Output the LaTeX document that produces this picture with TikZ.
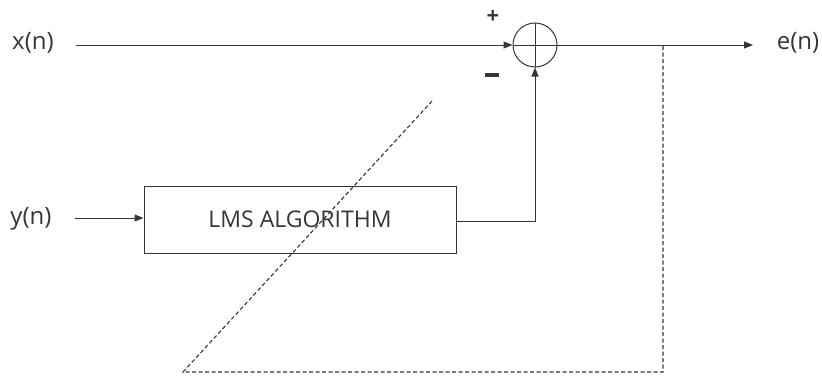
\documentclass[tikz,border=0pt]{standalone}
\usepackage{fontspec}
\setmainfont{Open Sans}
\usetikzlibrary{arrows.meta}
\definecolor{ink}{HTML}{363636}
\tikzset{
  wire/.style={draw=ink, line width=1pt},
  arr/.style={wire, -{Triangle[length=9pt,width=7pt]}},
  dash line/.style={draw=ink, line width=1.1pt, dash pattern=on 4pt off 2.5pt},
  lbl/.style={text=ink, font=\fontsize{24}{28}\selectfont, inner sep=0pt},
  blk/.style={draw=ink, line width=1pt, minimum width=312pt, minimum height=67pt, inner sep=0pt, text=ink, font=\fontsize{23}{27}\selectfont},
  sumc/.style={circle, draw=ink, line width=1pt, minimum size=44pt, inner sep=0pt},
  sign/.style={text=ink, font=\bfseries\fontsize{22}{24}\selectfont, inner sep=0pt}
}
\begin{document}
\begin{tikzpicture}[x=1pt,y=-1pt]
\useasboundingbox (0,0) rectangle (822,378);
\node[lbl] (x) at (33,43) {x(n)};
\node[lbl] (y) at (31,219) {y(n)};
\node[lbl] (e) at (798,43) {e(n)};
\node[sumc] (s) at (535,45) {};
\draw[wire] (s.north) -- (s.south);
\draw[wire] (s.west) -- (s.east);
\node[sign] (plus) at (493,17) {+};
\node[sign] (minus) at (492,75) {\rule{14pt}{3.5pt}};
\node[blk] (lms) at (300,219.5) {LMS ALGORITHM};
\coordinate (xs) at (76,45);
\coordinate (ys) at (75,218);
\coordinate (eo) at (753,45);
\draw[arr] (xs) -- (s.west);
\draw[arr] (ys) -- (lms.west |- ys);
\draw[arr] (s.east) -- (eo);
\draw[arr] (lms.east |- 0,221) -| (s.south);
\coordinate (d1) at (663,46);
\coordinate (d2) at (663,372);
\coordinate (d3) at (183,372);
\coordinate (d4) at (433,100);
\draw[dash line] (d1) -- (d2) -- (d3) -- (d4);
\end{tikzpicture}
\end{document}
